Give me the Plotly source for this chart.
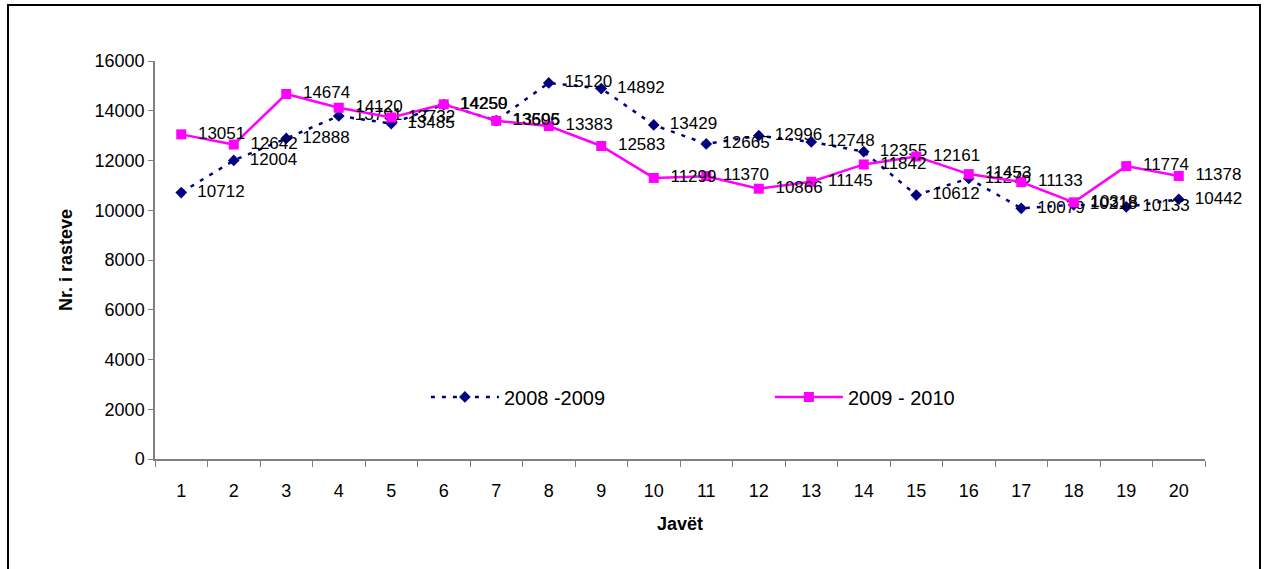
import plotly.graph_objects as go

weeks = [str(i) for i in range(1, 21)]
s2008 = [10712, 12004, 12888, 13791, 13485, 14250, 13606, 15120, 14892, 13429,
         12665, 12996, 12748, 12355, 10612, 11276, 10079, 10218, 10133, 10442]
s2009 = [13051, 12642, 14674, 14120, 13732, 14259, 13595, 13383, 12583, 11299,
         11370, 10866, 11145, 11842, 12161, 11453, 11133, 10318, 11774, 11378]
name2008 = "2008 -2009"
name2009 = "2009 - 2010"

FONT = "Liberation Sans, Arial, sans-serif"
PAD = "\u00a0\u00a0"

fig = go.Figure()
fig.add_trace(go.Scatter(
    x=weeks, y=s2008, name=name2008, mode="lines+markers+text",
    line=dict(color="#000080", width=2.5, dash="4px,7px"),
    marker=dict(symbol="diamond", size=9, color="#000080"),
    text=[PAD + str(v) for v in s2008], textposition="middle right",
    textfont=dict(family=FONT, size=17, color="black"),
    cliponaxis=False,
))
fig.add_trace(go.Scatter(
    x=weeks, y=s2009, name=name2009, mode="lines+markers+text",
    line=dict(color="#FF00FF", width=2.5),
    marker=dict(symbol="square", size=10, color="#FF00FF"),
    text=[PAD + str(v) for v in s2009], textposition="middle right",
    textfont=dict(family=FONT, size=17, color="black"),
    cliponaxis=False,
))

fig.update_layout(
    width=1268, height=569,
    margin=dict(l=155, r=63, t=61, b=110, autoexpand=False),
    paper_bgcolor="white", plot_bgcolor="white",
    font=dict(family=FONT, size=17, color="black"),
    showlegend=True,
    legend=dict(orientation="h", x=0.258, y=0.156, xanchor="left", yanchor="middle",
                bgcolor="rgba(0,0,0,0)", entrywidth=261, entrywidthmode="pixels",
                itemwidth=68,
                font=dict(family=FONT, size=20)),
    xaxis=dict(type="category", tickson="boundaries", ticks="outside", ticklen=6,
               range=[-0.5, len(weeks) - 0.5],
               tickcolor="#808080", showline=True, linecolor="#808080", linewidth=1.5,
               showgrid=False, zeroline=False, automargin=False,
               ticklabelstandoff=15,
               tickfont=dict(family=FONT, size=18),
               title=dict(text="<b>Javët</b>", font=dict(family=FONT, size=18), standoff=17)),
    yaxis=dict(range=[0, 16000], dtick=2000, tickformat="d", ticks="outside", ticklen=5,
               tickcolor="#808080", showline=True, linecolor="#808080", linewidth=1.5,
               showgrid=False, zeroline=False, automargin=False,
               tickfont=dict(family=FONT, size=18),
               title=dict(text="<b>Nr. i rasteve</b>", font=dict(family=FONT, size=18), standoff=17)),
    shapes=[dict(type="rect", xref="paper", yref="paper",
                 x0=(8 - 155) / 1050, x1=(1260 - 155) / 1050,
                 y0=(459 - 580) / 398, y1=(459 - 5) / 398,
                 line=dict(color="black", width=2), fillcolor="rgba(0,0,0,0)", layer="below")],
)

fig.write_html("out.html", config={"displayModeBar": False},
               post_script="document.body.style.margin='0';")
